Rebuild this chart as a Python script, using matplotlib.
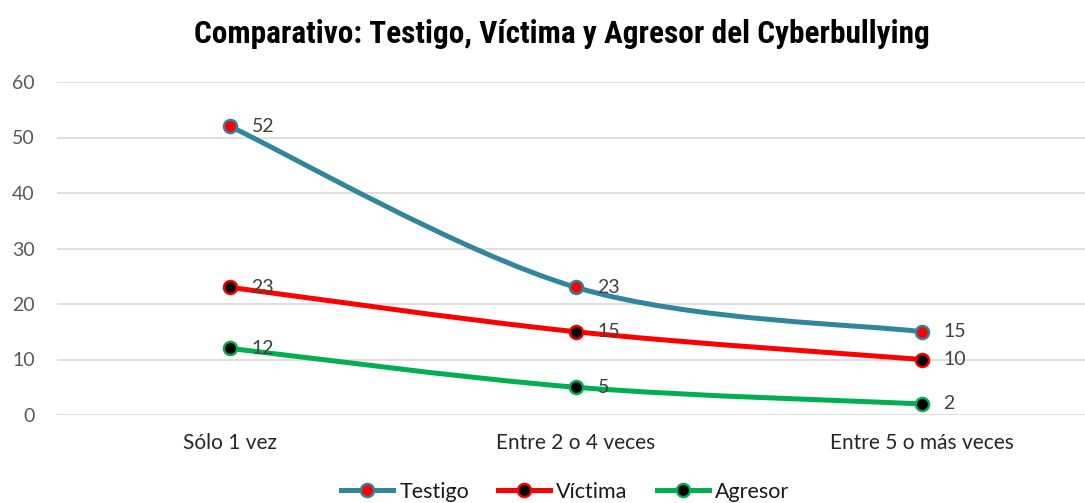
import numpy as np
import matplotlib
matplotlib.use("Agg")
import matplotlib.pyplot as plt
from matplotlib.path import Path
from matplotlib.patches import PathPatch
from matplotlib.lines import Line2D
from matplotlib import font_manager

# Data
categories = ["Sólo 1 vez", "Entre 2 o 4 veces", "Entre 5 o más veces"]
testigo = [52, 23, 15]
victima = [23, 15, 10]
agresor = [12, 5, 2]
series_names = ["Testigo", "Víctima", "Agresor"]
line_colors = ["#31859C", "#FF0000", "#00B050"]
marker_faces = ["#FF0000", "#000000", "#000000"]
y_ticks = [0, 10, 20, 30, 40, 50, 60]

names = {f.name for f in font_manager.fontManager.ttflist}
title_font = "Liberation Sans"
for cand in ["Liberation Sans Narrow", "Roboto Condensed", "Open Sans Condensed", "DejaVu Sans Condensed"]:
    if cand in names:
        title_font = cand
        break
body_font = "Lato"


def smooth_path(xs, ys):
    # Excel-style smoothed line as cubic bezier segments through the data points
    pts = np.column_stack([xs, ys]).astype(float)
    n = len(pts)
    verts = [pts[0]]
    codes = [Path.MOVETO]
    for i in range(n - 1):
        p0 = pts[i - 1] if i > 0 else pts[i]
        p1 = pts[i]
        p2 = pts[i + 1]
        p3 = pts[i + 2] if i + 2 < n else pts[i + 1]
        c1 = p1 + (p2 - p0) / 6.0
        c2 = p2 - (p3 - p1) / 6.0
        verts += [c1, c2, p2]
        codes += [Path.CURVE4] * 3
    return Path(verts, codes)


fig = plt.figure(figsize=(10.85, 5.03), dpi=100)
ax = fig.add_axes([57 / 1085, 88 / 503, 1028 / 1085, 333 / 503])

x = np.arange(len(categories))
for vals, name, lc, mf in zip([testigo, victima, agresor], series_names, line_colors, marker_faces):
    patch = PathPatch(smooth_path(x, vals), facecolor="none", edgecolor=lc,
                      linewidth=3.6, capstyle="round", joinstyle="round", zorder=3)
    ax.add_patch(patch)
    ax.plot(x, vals, linestyle="none", marker="o", markersize=9.5,
            markerfacecolor=mf, markeredgecolor=lc, markeredgewidth=1.7, zorder=4)
    for xi, v in zip(x, vals):
        ax.annotate(str(v), (xi, v), xytext=(15.5, 0), textcoords="offset points",
                    ha="left", va="center", fontsize=14, color="#404040",
                    family=body_font, zorder=5)

ax.set_xlim(-0.5, 2.471)
ax.set_ylim(0, 60)
ax.set_yticks(y_ticks)
ax.set_xticks(x)
ax.set_xticklabels(categories)
ax.grid(axis="y", color="#D9D9D9", linewidth=1.2)
ax.set_axisbelow(True)
for s in ax.spines.values():
    s.set_visible(False)
ax.tick_params(axis="y", length=0, labelsize=14, labelcolor="#595959", pad=16)
ax.tick_params(axis="x", length=0, labelsize=15, labelcolor="#262626", pad=13)
for lbl in ax.get_xticklabels() + ax.get_yticklabels():
    lbl.set_family(body_font)

fig.text(0.518, 0.933, "Comparativo: Testigo, Víctima y Agresor del Cyberbullying",
         ha="center", va="center", fontsize=22.5, fontweight="bold",
         family=title_font, color="#000000")

handles = [Line2D([0], [0], color=lc, linewidth=3.6, marker="o", markersize=9.5,
                  markerfacecolor=mf, markeredgecolor=lc, markeredgewidth=1.7)
           for lc, mf in zip(line_colors, marker_faces)]
leg = fig.legend(handles, series_names, loc="center", bbox_to_anchor=(0.521, 0.022),
                 ncol=3, frameon=False, handlelength=2.4, columnspacing=1.35,
                 handletextpad=0.3, borderpad=0.1,
                 prop={"family": body_font, "size": 15.5})
for t in leg.get_texts():
    t.set_color("#1A1A1A")

fig.savefig("out.png", dpi=100)
